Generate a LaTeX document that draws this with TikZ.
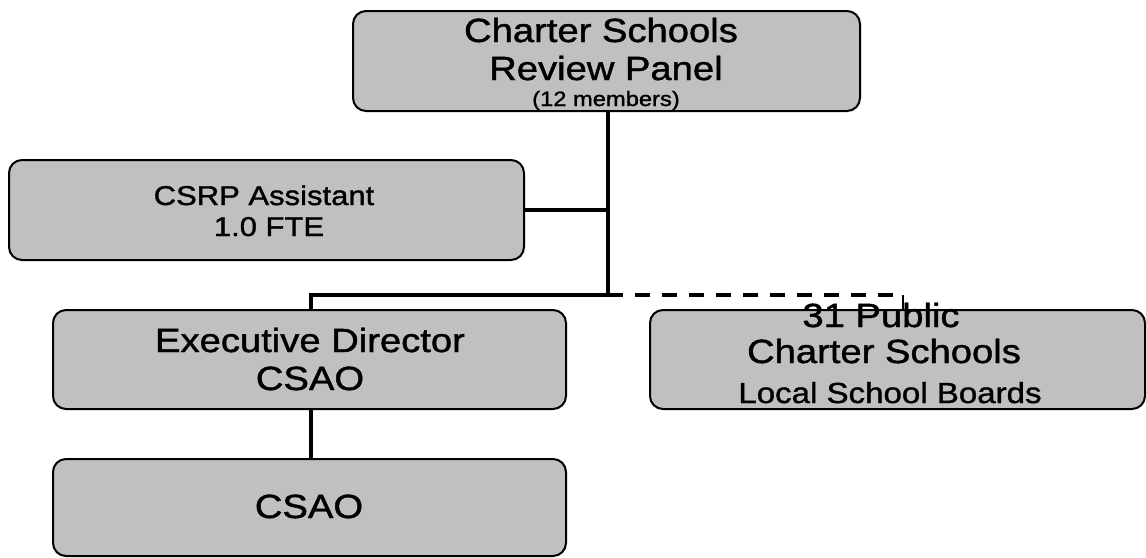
\documentclass[tikz,border=0pt]{standalone}
\usepackage{fontspec}
\setmainfont{Liberation Sans}
\newfontfamily\wfont[FakeStretch=1.14,FakeBold=1.3]{Liberation Sans}
\definecolor{boxgray}{RGB}{192,192,192}
\begin{document}
\begin{tikzpicture}[x=1pt,y=-1pt,
  box/.style={draw=black, line width=2pt, fill=boxgray, rounded corners=13pt,
    inner sep=0pt, anchor=north west},
  conn/.style={draw=black, line width=3.3pt},
  dashconn/.style={draw=black, line width=3.3pt, dash pattern=on 15pt off 12pt},
  tick/.style={draw=black, line width=1.8pt},
  big/.style={anchor=base, inner sep=0pt, font=\wfont\fontsize{33.5}{33.5}\selectfont},
  mid/.style={anchor=base, inner sep=0pt, font=\wfont\fontsize{27.2}{27.2}\selectfont},
  loc/.style={anchor=base, inner sep=0pt, font=\wfont\fontsize{29}{29}\selectfont},
  small/.style={anchor=base, inner sep=0pt, font=\wfont\fontsize{20.8}{20.8}\selectfont}]
\useasboundingbox (0,0) rectangle (1146,557);
\fill[white] (0,0) rectangle (1146,557);

% boxes
\node[box, minimum width=507pt, minimum height=100pt] (panel) at (352,10) {};
\node[box, minimum width=515pt, minimum height=100pt] (csrp) at (8,159) {};
\node[box, minimum width=513pt, minimum height=99pt] (exec) at (52,309) {};
\node[box, minimum width=513pt, minimum height=97pt] (csao) at (52,458) {};
\node[box, minimum width=495pt, minimum height=99pt] (public) at (649,309) {};

% texts
\node[big] (t1) at (601,42) {Charter Schools};
\node[big] (t2) at (606,80) {Review Panel};
\node[small] (t3) at (606,106) {(12 members)};
\node[mid] (t4) at (264,205) {CSRP Assistant};
\node[mid] (t5) at (269,236) {1.0 FTE};
\node[big] (t6) at (310,352) {Executive Director};
\node[big] (t7) at (310,390) {CSAO};
\node[big] (t8) at (309,518) {CSAO};
\node[big] (t9) at (881,327) {31 Public};
\node[big] (t10) at (884,363) {Charter Schools};
\node[loc] (t11) at (890,403) {Local School Boards};

% connectors
\coordinate (j) at (608,295);
\coordinate (pt) at (903,295);
\draw[conn] (j |- panel.south) -- (j);
\draw[conn] (csrp.east) -- (csrp.east -| j);
\draw[conn] (j) -- (311,295) -- (311,309);
\draw[dashconn] (j) -- (pt);
\draw[tick] (pt) -- (pt |- public.north);
\draw[conn] (311,408) -- (311,458);
\end{tikzpicture}
\end{document}
